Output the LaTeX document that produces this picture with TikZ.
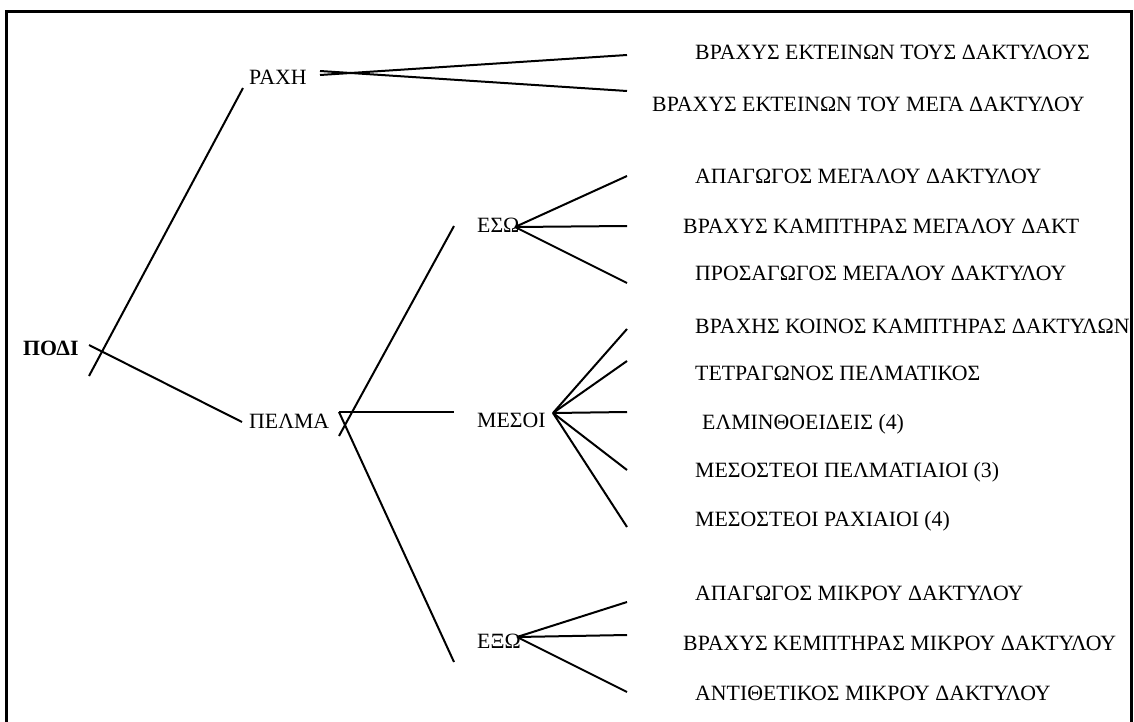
\documentclass[tikz,border=0pt]{standalone}
\usepackage{fontspec}
\setmainfont{Liberation Serif}
\begin{document}
\begin{tikzpicture}[x=1pt,y=-1pt,
  conn/.style={line width=2pt},
  frame/.style={line width=3pt},
  lbl/.style={anchor=base west,inner sep=0pt,font=\fontsize{21.8}{26}\selectfont},
  rootlbl/.style={lbl,font=\fontsize{21.8}{26}\selectfont\bfseries}]
\useasboundingbox (0,0) rectangle (1134,722);
\draw[frame] (6.5,722) -- (6.5,12) -- (1131.5,12) -- (1131.5,722);
% level 0/1 labels
\node[rootlbl] (podi) at (23,355) {ΠΟΔΙ};
\node[lbl] (raxi) at (249,85) {ΡΑΧΗ};
\node[lbl] (pelma) at (249,428) {ΠΕΛΜΑ};
\node[lbl] (eso) at (477,232) {ΕΣΩ};
\node[lbl] (mesoi) at (477,427) {ΜΕΣΟΙ};
\node[lbl] (exo) at (477,648) {ΕΞΩ};
% leaves
\node[lbl] (r1) at (695,60) {ΒΡΑΧΥΣ ΕΚΤΕΙΝΩΝ ΤΟΥΣ ΔΑΚΤΥΛΟΥΣ};
\node[lbl] (r2) at (652,112) {ΒΡΑΧΥΣ ΕΚΤΕΙΝΩΝ ΤΟΥ ΜΕΓΑ ΔΑΚΤΥΛΟΥ};
\node[lbl] (e1) at (695,183) {ΑΠΑΓΩΓΟΣ ΜΕΓΑΛΟΥ ΔΑΚΤΥΛΟΥ};
\node[lbl] (e2) at (683,233) {ΒΡΑΧΥΣ ΚΑΜΠΤΗΡΑΣ ΜΕΓΑΛΟΥ ΔΑΚΤ};
\node[lbl] (e3) at (695,280) {ΠΡΟΣΑΓΩΓΟΣ ΜΕΓΑΛΟΥ ΔΑΚΤΥΛΟΥ};
\node[lbl] (m1) at (695,333) {ΒΡΑΧΗΣ ΚΟΙΝΟΣ ΚΑΜΠΤΗΡΑΣ ΔΑΚΤΥΛΩΝ};
\node[lbl] (m2) at (695,380) {ΤΕΤΡΑΓΩΝΟΣ ΠΕΛΜΑΤΙΚΟΣ};
\node[lbl] (m3) at (702,429) {ΕΛΜΙΝΘΟΕΙΔΕΙΣ (4)};
\node[lbl] (m4) at (695,477) {ΜΕΣΟΣΤΕΟΙ ΠΕΛΜΑΤΙΑΙΟΙ (3)};
\node[lbl] (m4x) at (695,526) {ΜΕΣΟΣΤΕΟΙ ΡΑΧΙΑΙΟΙ (4)};
\node[lbl] (x1) at (695,600) {ΑΠΑΓΩΓΟΣ ΜΙΚΡΟΥ ΔΑΚΤΥΛΟΥ};
\node[lbl] (x2) at (683,650) {ΒΡΑΧΥΣ ΚΕΜΠΤΗΡΑΣ ΜΙΚΡΟΥ ΔΑΚΤΥΛΟΥ};
\node[lbl] (x3) at (695,700) {ΑΝΤΙΘΕΤΙΚΟΣ ΜΙΚΡΟΥ ΔΑΚΤΥΛΟΥ};
% connector end points
\coordinate (podiA) at (89,345);
\coordinate (podiB) at (89,376);
\coordinate (raxiIn) at (243,88);
\coordinate (pelmaIn) at (242,422);
\coordinate (raxiOutA) at (320,75);
\coordinate (raxiOutB) at (320,71);
\coordinate (r1In) at (627,55);
\coordinate (r2In) at (627,91);
\coordinate (pelmaOutA) at (339,412);
\coordinate (pelmaOutB) at (339,436);
\coordinate (esoIn) at (454,226);
\coordinate (mesoiIn) at (454,412);
\coordinate (exoIn) at (454,662);
\coordinate (esoOut) at (515,227);
\coordinate (e1In) at (627,176);
\coordinate (e2In) at (627,226);
\coordinate (e3In) at (627,283);
\coordinate (mesoiOut) at (553,413);
\coordinate (m1In) at (627,329);
\coordinate (m2In) at (627,361);
\coordinate (m3In) at (627,412);
\coordinate (m4In) at (627,470);
\coordinate (m5In) at (627,527);
\coordinate (exoOut) at (517,637);
\coordinate (x1In) at (627,602);
\coordinate (x2In) at (627,635);
\coordinate (x3In) at (627,692);
% connectors
\draw[conn] (podiA) -- (pelmaIn);
\draw[conn] (podiB) -- (raxiIn);
\draw[conn] (raxiOutA) -- (r1In);
\draw[conn] (raxiOutB) -- (r2In);
\draw[conn] (pelmaOutA) -- (mesoiIn);
\draw[conn] (pelmaOutB) -- (esoIn);
\draw[conn] (pelmaOutA) -- (exoIn);
\draw[conn] (esoOut) -- (e1In);
\draw[conn] (esoOut) -- (e2In);
\draw[conn] (esoOut) -- (e3In);
\draw[conn] (mesoiOut) -- (m1In);
\draw[conn] (mesoiOut) -- (m2In);
\draw[conn] (mesoiOut) -- (m3In);
\draw[conn] (mesoiOut) -- (m4In);
\draw[conn] (mesoiOut) -- (m5In);
\draw[conn] (exoOut) -- (x1In);
\draw[conn] (exoOut) -- (x2In);
\draw[conn] (exoOut) -- (x3In);
\end{tikzpicture}
\end{document}
